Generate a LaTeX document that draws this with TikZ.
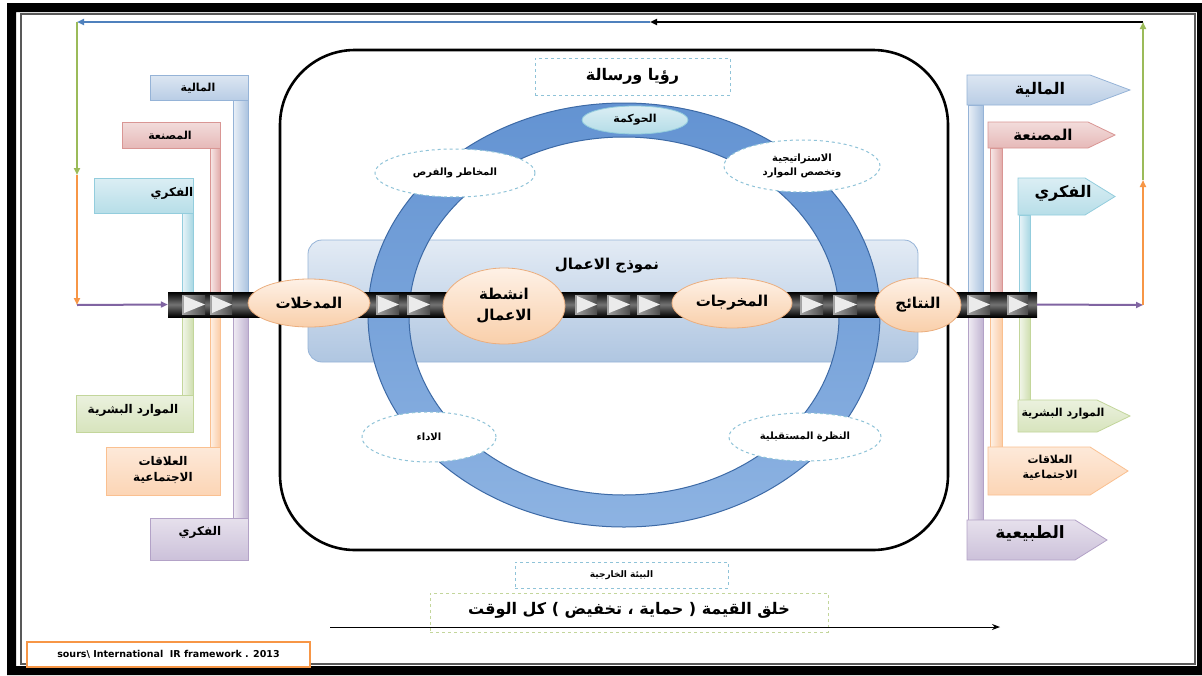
\documentclass[tikz,border=0pt]{standalone}
\usepackage{fontspec}
\TeXXeTstate=1
\newfontfamily\arabicfont[Script=Arabic]{DejaVu Sans}
\newfontfamily\latfont{DejaVu Sans}
\usetikzlibrary{arrows.meta,shapes.geometric}
\newcommand{\ar}[1]{{\arabicfont\bfseries\beginR #1\endR}}
\newcommand{\fs}[1]{\fontsize{#1}{#1}\selectfont}
\definecolor{bluefa}{HTML}{DCE6F2}\definecolor{bluefb}{HTML}{B9CDE5}\definecolor{blued}{HTML}{95B3D7}
\definecolor{redfa}{HTML}{F2DCDB}\definecolor{redfb}{HTML}{E6B9B8}\definecolor{redd}{HTML}{D99694}
\definecolor{cyanfa}{HTML}{DBEEF4}\definecolor{cyanfb}{HTML}{B7DEE8}\definecolor{cyand}{HTML}{93CDDD}
\definecolor{grnfa}{HTML}{EBF1DE}\definecolor{grnfb}{HTML}{D7E4BD}\definecolor{grnd}{HTML}{C3D69B}
\definecolor{orfa}{HTML}{FDE9D9}\definecolor{orfb}{HTML}{FCD5B5}\definecolor{ord}{HTML}{FAC090}
\definecolor{purfa}{HTML}{E6E0EC}\definecolor{purfb}{HTML}{CCC1DA}\definecolor{purd}{HTML}{B3A2C7}
\definecolor{lnblue}{HTML}{4F81BD}\definecolor{lngreen}{HTML}{9BBB59}\definecolor{lnorange}{HTML}{F79646}\definecolor{lnpurple}{HTML}{8064A2}
\definecolor{ringa}{HTML}{6393D2}\definecolor{ringb}{HTML}{8DB3E2}\definecolor{ringd}{HTML}{3D6AA6}
\definecolor{dashb}{HTML}{8FC3D8}
\definecolor{peacha}{HTML}{FEF1E6}\definecolor{peachb}{HTML}{F9CFAA}\definecolor{peachd}{HTML}{EBAE7E}
\begin{document}
\begin{tikzpicture}[x=1pt,y=-1pt,
  box/.style={rectangle,draw=#1d,top color=#1fa,bottom color=#1fb,line width=0.8,inner sep=0},
  stem/.style={draw=#1d,left color=#1fa!60,right color=#1fb!60!#1d,line width=0.8},
  conn/.style={line width=2,-{Triangle[length=7pt,width=6pt]}},
  dashell/.style={ellipse,draw=dashb,dashed,fill=white,line width=1,inner sep=0},
  dashbox/.style={rectangle,draw=#1,dashed,fill=white,line width=1,inner sep=0},
  barell/.style={ellipse,draw=peachd,top color=peacha,bottom color=peachb,line width=0.8,inner sep=0},
  lbl/.style={inner sep=0,align=center}]
\useasboundingbox (0,0) rectangle (1202,675);
\fill[white] (0,0) rectangle (1202,675);
% frame
\fill[black,even odd rule] (7,3) rectangle (1202,675) (16,12) rectangle (1197,666);
\draw[black!65,line width=1.2] (21,14) rectangle (1195,664);
% environment
\node[draw,line width=2.6,rounded corners=75,minimum width=668,minimum height=500] (env) at (614,300) {};
% business model band
\node[rectangle,rounded corners=14,draw=blued,top color=bluefa!80,bottom color=blued!75,line width=0.8,minimum width=610,minimum height=122] (bm) at (613,301) {};
% ring
\path[even odd rule,top color=ringa,bottom color=ringb,draw=ringd,line width=1] (624,315) ellipse [x radius=256,y radius=212] (624,316) ellipse [x radius=215,y radius=179];
\node[lbl,font=\fs{15}] (bmt) at (607,266) {\ar{نموذج الاعمال}};
% ring elements
\node[ellipse,draw=cyand,top color=cyanfa,bottom color=cyanfb!90!cyand,line width=0.8,minimum width=106,minimum height=28,inner sep=0] (gov) at (635,120) {};
\node[lbl,font=\fs{11}] at (gov) {\ar{الحوكمة}};
\node[dashell,minimum width=160,minimum height=48] (risk) at (455,173) {};
\node[lbl,font=\fs{10}] at (risk) {\ar{المخاطر والفرص}};
\node[dashell,minimum width=156,minimum height=52] (strat) at (802,166) {};
\node[lbl,font=\fs{10}] at (strat) {\ar{الاستراتيجية}\\[3pt]\ar{وتخصص الموارد}};
\node[dashell,minimum width=134,minimum height=50] (perf) at (429,437) {};
\node[lbl,font=\fs{10}] at (perf) {\ar{الاداء}};
\node[dashell,minimum width=152,minimum height=48] (fut) at (805,437) {};
\node[lbl,font=\fs{10}] at (fut) {\ar{النظرة المستقبلية}};
\node[dashbox=dashb,minimum width=195,minimum height=37] (vis) at (632.5,76.5) {};
\node[lbl,font=\fs{16}] at (vis) {\ar{رؤيا ورسالة}};
\node[dashbox=dashb,minimum width=213,minimum height=26] (ext) at (621.5,575) {};
\node[lbl,font=\fs{9}] at (ext) {\ar{البيئة الخارجية}};
\node[dashbox=grnd,minimum width=398,minimum height=39] (val) at (629,612.5) {};
% bottom arrow
\coordinate (ba) at (330,627);
\coordinate (bb) at (1000,627);
\draw[line width=1,-{Stealth[length=8pt,width=6pt]}] (ba) -- (bb);
\node[lbl,font=\fs{16},fill=white,inner sep=1] at (629,610) {\ar{خلق القيمة ( حماية ، تخفيض ) كل الوقت}};
% source
\node[rectangle,draw=lnorange,line width=2.5,fill=white,minimum width=283,minimum height=25,inner sep=0] (src) at (168.5,654.5) {};
\node[lbl,font=\latfont\bfseries\fs{9.5}] at (src) {sours\textbackslash\ International\ \ IR framework . 2013};
% left stems
\draw[stem=blue] (233,100) rectangle (248,305);
\draw[stem=red] (210,148) rectangle (220,305);
\draw[stem=cyan] (182,213) rectangle (193,305);
\draw[stem=pur] (233,305) rectangle (248,518);
\draw[stem=or] (210,305) rectangle (220,447);
\draw[stem=grn] (182,305) rectangle (193,395);
% right stems
\draw[stem=blue] (968,105) rectangle (983,305);
\draw[stem=red] (990,148) rectangle (1002,305);
\draw[stem=cyan] (1019,215) rectangle (1030,305);
\draw[stem=pur] (968,305) rectangle (983,520);
\draw[stem=or] (990,305) rectangle (1002,447);
\draw[stem=grn] (1019,305) rectangle (1030,400);
% left boxes
\node[box=blue,minimum width=98,minimum height=25] (lmal) at (199,87.5) {};
\node[lbl,font=\fs{11}] at (198,88) {\ar{المالية}};
\node[box=red,minimum width=98,minimum height=26] (lmas) at (171,135) {};
\node[lbl,font=\fs{11}] at (170,135) {\ar{المصنعة}};
\node[box=cyan,minimum width=99,minimum height=35] (lfik) at (143.5,195.5) {};
\node[lbl,font=\fs{12}] at (172,193) {\ar{الفكري}};
\node[box=grn,minimum width=117,minimum height=37] (lmaw) at (134.5,413.5) {};
\node[lbl,font=\fs{12}] at (133,410) {\ar{الموارد البشرية}};
\node[box=or,minimum width=114,minimum height=48] (lala) at (163,471) {};
\node[lbl,font=\fs{12}] at (163,470) {\ar{العلاقات}\\[4pt]\ar{الاجتماعية}};
\node[box=pur,minimum width=98,minimum height=42] (lfik2) at (199,539) {};
\node[lbl,font=\fs{12}] at (200,532) {\ar{الفكري}};
% right arrow boxes
\path[draw=blued,top color=bluefa,bottom color=bluefb,line width=0.8] (967,75) -- (1090,75) -- (1130,90) -- (1090,105) -- (967,105) -- cycle;
\node[lbl,font=\fs{16}] (rmal) at (1040,90) {\ar{المالية}};
\path[draw=redd,top color=redfa,bottom color=redfb,line width=0.8] (988,122) -- (1088,122) -- (1115,135) -- (1088,148) -- (988,148) -- cycle;
\node[lbl,font=\fs{15}] (rmas) at (1043,135) {\ar{المصنعة}};
\path[draw=cyand,top color=cyanfa,bottom color=cyanfb,line width=0.8] (1018,178) -- (1085,178) -- (1115,196.5) -- (1085,215) -- (1018,215) -- cycle;
\node[lbl,font=\fs{16}] (rfik) at (1063,193) {\ar{الفكري}};
\path[draw=grnd,top color=grnfa,bottom color=grnfb,line width=0.8] (1018,400) -- (1097,400) -- (1130,416) -- (1097,432) -- (1018,432) -- cycle;
\node[lbl,font=\fs{11}] (rmaw) at (1063,414) {\ar{الموارد البشرية}};
\path[draw=ord,top color=orfa,bottom color=orfb,line width=0.8] (988,447) -- (1090,447) -- (1128,471) -- (1090,495) -- (988,495) -- cycle;
\node[lbl,font=\fs{11}] (rala) at (1050,468) {\ar{العلاقات}\\[4pt]\ar{الاجتماعية}};
\path[draw=purd,top color=purfa,bottom color=purfb,line width=0.8] (967,520) -- (1075,520) -- (1107,540) -- (1075,560) -- (967,560) -- cycle;
\node[lbl,font=\fs{17}] (rtab) at (1030,534) {\ar{الطبيعية}};
% bar
\node[rectangle,minimum width=869,minimum height=25,inner sep=0,top color=black,bottom color=black,middle color=black!55] (bar) at (602.5,304.5) {};
\foreach \a/\b in {182/205,210/232,376/399,407/430,575/597,607/630,637/660,800/823,833/857,967/990,1007/1028}{
  \fill[left color=black!35,right color=black!70] (\a,295) rectangle (\b,314);
  \fill[black!8] (\a+2,296) -- (\b,304.5) -- (\a+2,313) -- cycle;
}
% bar ellipses
\node[barell,minimum width=122,minimum height=48] (in) at (309,303) {};
\node[lbl,font=\fs{15}] at (in) {\ar{المدخلات}};
\node[barell,minimum width=122,minimum height=76] (act) at (504,306) {};
\node[lbl,font=\fs{15}] at (act) {\ar{انشطة}\\[6pt]\ar{الاعمال}};
\node[barell,minimum width=120,minimum height=50] (out) at (732,303) {};
\node[lbl,font=\fs{15}] at (out) {\ar{المخرجات}};
\node[barell,minimum width=86,minimum height=54] (res) at (918,305) {};
\node[lbl,font=\fs{15}] at (res) {\ar{النتائج}};
% loop connectors
\coordinate (tl) at (77,22);
\coordinate (tm) at (650,22);
\coordinate (tr) at (1143,22);
\coordinate (lm) at (77,175);
\coordinate (lb) at (77,305);
\coordinate (rb) at (1143,305);
\coordinate (rm) at (1143,180);
\draw[conn,black] (tr) -- (tm);
\draw[conn,lnblue] (tm) -- (tl);
\draw[conn,lngreen] (tl) -- (lm);
\draw[conn,lnorange] (lm) -- (lb);
\draw[conn,lnpurple] (lb) -- (bar.west);
\draw[conn,lnpurple] (bar.east) -- (rb);
\draw[conn,lnorange] (rb) -- (rm);
\draw[conn,lngreen] (rm) -- (tr);
\end{tikzpicture}
\end{document}
